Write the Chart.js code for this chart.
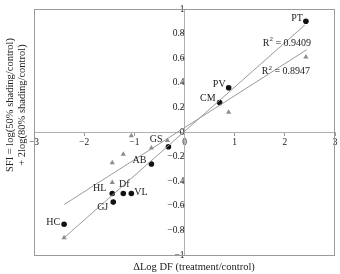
<!DOCTYPE html>
<html>
<head>
<meta charset="utf-8">
<script src="https://cdn.jsdelivr.net/npm/chart.js@4"></script>
<style>
  html, body { margin: 0; padding: 0; background: #fff; }
  #wrap { width: 340px; height: 274px; }
</style>
</head>
<body>
<div id="wrap"><canvas id="sfiChart" width="340" height="274"></canvas></div>
<script>
// circles (black) with site labels
const circleLabels = ['PT', 'PV', 'CM', 'GS', 'AB', 'HL', 'Df', 'VL', 'GJ', 'HC'];
const circleX = [2.42, 0.88, 0.70, -0.32, -0.66, -1.44, -1.22, -1.06, -1.42, -2.40];
const circleY = [0.90, 0.36, 0.24, -0.12, -0.26, -0.50, -0.50, -0.50, -0.57, -0.75];

// triangles (grey)
const triangleX = [2.42, 0.88, -0.34, -0.66, -1.06, -1.22, -1.44, -1.44, -2.40];
const triangleY = [0.61, 0.16, -0.07, -0.13, -0.03, -0.18, -0.25, -0.41, -0.86];

// regression lines
const fitCircleX = [-2.40, 2.40];
const fitCircleY = [-0.86, 0.87];
const fitTriangleX = [-2.40, 2.44];
const fitTriangleY = [-0.59, 0.67];
const r2Labels = ['0.9409', '0.8947'];
const r2X = [1.56, 1.54];
const r2Y = [0.72, 0.49];

const xTicks = [-3, -2, -1, 0, 1, 2, 3];
const yTicks = [-1, -0.8, -0.6, -0.4, -0.2, 0, 0.2, 0.4, 0.6, 0.8, 1];

const FONT = '"Liberation Serif", "Times New Roman", serif';
const toPts = (xs, ys) => xs.map((x, i) => ({ x: x, y: ys[i] }));
const fmt = v => String(Math.round(v * 10) / 10).replace('-', '\u2212');

// label placement next to each circle: [dx, dy, align]
const labelPlace = {
    PT: [-3, -3, 'right'], PV: [-3, -3, 'right'], CM: [-4, -4, 'right'],
    GS: [-6, -7, 'right'], AB: [-5, -4, 'right'], HL: [-6, -5, 'right'],
    Df: [1, -9, 'center'], VL: [3, -1, 'left'], GJ: [-5, 5, 'right'],
    HC: [-4, -2, 'right']
};

const decorations = {
    id: 'decorations',
    beforeDatasetsDraw(chart) {
        const a = chart.chartArea;
        const c = chart.ctx;
        c.save();
        c.strokeStyle = '#9a9a9a';
        c.lineWidth = 1;
        c.strokeRect(Math.round(a.left) + 0.5, Math.round(a.top) + 0.5,
            Math.round(a.right - a.left) - 1, Math.round(a.bottom - a.top));
        c.restore();
    },
    afterDraw(chart) {
        const c = chart.ctx;
        const xs = chart.scales.x, ys = chart.scales.y;
        c.save();
        c.fillStyle = '#222';
        c.textBaseline = 'middle';
        c.font = '10px ' + FONT;
        circleLabels.forEach((lab, i) => {
            const p = labelPlace[lab];
            c.textAlign = p[2];
            c.fillText(lab, xs.getPixelForValue(circleX[i]) + p[0], ys.getPixelForValue(circleY[i]) + p[1]);
        });
        // R^2 labels
        r2Labels.forEach((v, i) => {
            let px = xs.getPixelForValue(r2X[i]);
            const py = ys.getPixelForValue(r2Y[i]);
            c.textAlign = 'left';
            c.font = '10px ' + FONT;
            c.fillText('R', px, py);
            px += c.measureText('R').width;
            c.font = '7px ' + FONT;
            c.fillText('2', px, py - 4);
            px += c.measureText('2').width;
            c.font = '10px ' + FONT;
            c.fillText(' = ' + v, px, py);
        });
        // axis titles
        c.textAlign = 'center';
        c.font = '10.5px ' + FONT;
        c.fillText('\u0394Log DF (treatment/control)', 194, 267);
        c.translate(10, 105);
        c.rotate(-Math.PI / 2);
        c.fillText('SFI = log(50% shading/control)', 0, 0);
        c.fillText('+ 2log(80% shading/control)', 0, 12);
        c.restore();
    }
};

const ctx = document.getElementById('sfiChart').getContext('2d');
const sfiChart = new Chart(ctx, {
    type: 'scatter',
    data: {
        datasets: [{
            type: 'line',
            data: toPts(fitCircleX, fitCircleY),
            borderColor: '#9a9a9a',
            borderWidth: 1,
            pointRadius: 0
        }, {
            type: 'line',
            data: toPts(fitTriangleX, fitTriangleY),
            borderColor: '#9a9a9a',
            borderWidth: 1,
            pointRadius: 0
        }, {
            data: toPts(triangleX, triangleY),
            pointStyle: 'triangle',
            pointRadius: 3,
            backgroundColor: '#8c8c8c',
            borderColor: '#8c8c8c',
            borderWidth: 0
        }, {
            data: toPts(circleX, circleY),
            pointStyle: 'circle',
            pointRadius: 2.8,
            backgroundColor: '#111',
            borderColor: '#111',
            borderWidth: 0
        }]
    },
    options: {
        responsive: false,
        animation: false,
        layout: { padding: { left: 34, right: 5, top: 9, bottom: 19 } },
        plugins: { legend: { display: false }, tooltip: { enabled: false } },
        scales: {
            x: {
                type: 'linear',
                position: { y: 0 },
                min: -3, max: 3,
                afterFit: s => { s.height = 0; },
                afterBuildTicks: s => { s.ticks = xTicks.map(v => ({ value: v })); },
                ticks: { callback: v => fmt(v), color: '#222', font: { family: FONT, size: 9.5 }, padding: 2, maxRotation: 0, autoSkip: false },
                grid: { drawOnChartArea: false, tickLength: 3, color: '#9a9a9a' },
                border: { color: '#b0b0b0' }
            },
            y: {
                type: 'linear',
                position: { x: 0 },
                min: -1, max: 1,
                afterFit: s => { s.width = 0; },
                afterBuildTicks: s => { s.ticks = yTicks.map(v => ({ value: v })); },
                ticks: { callback: v => fmt(v), color: '#222', font: { family: FONT, size: 9.5 }, padding: 2, autoSkip: false },
                grid: { drawOnChartArea: false, tickLength: 3, color: '#9a9a9a' },
                border: { color: '#b0b0b0' }
            }
        }
    },
    plugins: [decorations]
});
</script>
</body>
</html>
